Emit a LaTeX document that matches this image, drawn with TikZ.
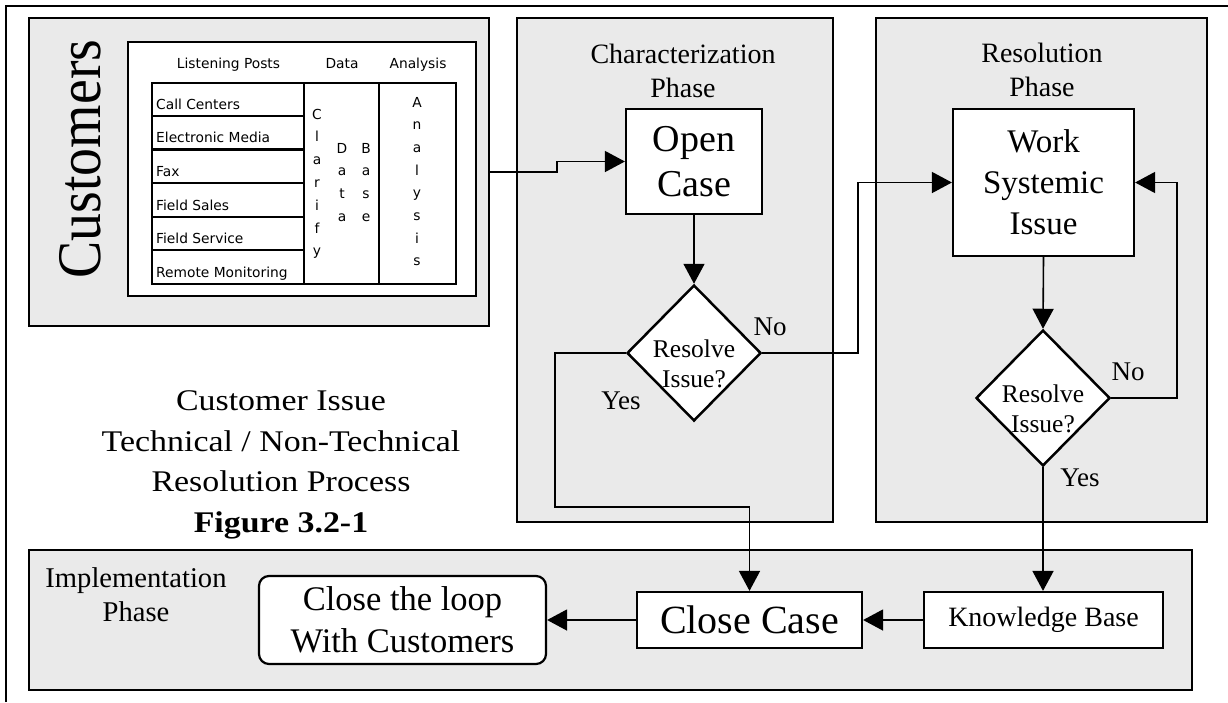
\documentclass[tikz,border=0pt]{standalone}
\usepackage{fontspec}
\setmainfont{Liberation Serif}
\newfontfamily\tabfont{DejaVu Sans}
\newfontfamily\capfont[FakeStretch=1.13]{Liberation Serif}
\newfontfamily\custfont[FakeStretch=0.9]{Liberation Serif}
\usetikzlibrary{arrows.meta,shapes.geometric}
\definecolor{panelgray}{RGB}{234,234,234}
\tikzset{
  panel/.style={draw=black, fill=panelgray, line width=1.5pt, inner sep=0pt, outer sep=0pt},
  box/.style={draw=black, fill=white, line width=2.2pt, inner sep=0pt, align=center},
  dia/.style={draw=black, fill=white, diamond, line width=2.5pt, inner sep=0pt},
  conn/.style={line width=1.6pt},
  arr/.style={line width=1.6pt, -{Triangle[length=20pt,width=21pt]}},
  tabtxt/.style={font=\tabfont\fontsize{13.8}{16}\selectfont, inner sep=0pt},
  lbl/.style={font=\fontsize{27}{30}\selectfont, inner sep=0pt},
  head/.style={font=\fontsize{28}{34}\selectfont, inner sep=0pt, align=center},
}
\begin{document}
\begin{tikzpicture}[x=1pt,y=-1pt]
\useasboundingbox (0,0) rectangle (1228,702);
% outer frame
\draw[line width=2pt] (6,702) -- (6,6) -- (1228,6);
% panels
\node[panel, minimum width=460, minimum height=308] (cust) at (259,172) {};
\node[panel, minimum width=316, minimum height=504] (charp) at (675,270) {};
\node[panel, minimum width=331, minimum height=504] (resp) at (1041.5,270) {};
\node[panel, minimum width=1163, minimum height=140] (implp) at (610.5,620) {};
% Customers title
\node[rotate=90, inner sep=0pt, font=\custfont\fontsize{62}{62}\selectfont] (custtitle) at (80,159) {Customers};
% inner white box
\node[draw=black, fill=white, line width=1.5pt, inner sep=0pt, minimum width=348, minimum height=254] (listbox) at (302,169) {};
% table
\node[draw=black, line width=2.8pt, inner sep=0pt, minimum width=304, minimum height=201] (table) at (304,183.5) {};
\draw[line width=2.8pt] (304,83) -- (304,284);
\draw[line width=2.8pt] (379,83) -- (379,284);
\foreach \yy in {116,149.5,183,217,250} \draw[line width=2.8pt] (152,\yy) -- (304,\yy);
% headers
\node[tabtxt, anchor=base] (hlp) at (228.5,68.5) {Listening Posts};
\node[tabtxt, anchor=base] (hdata) at (342,68.5) {Data};
\node[tabtxt, anchor=base] (hana) at (418,68.5) {Analysis};
% rows
\node[tabtxt, anchor=base west] (r1) at (156,109) {Call Centers};
\node[tabtxt, anchor=base west] (r2) at (156,142.5) {Electronic Media};
\node[tabtxt, anchor=base west] (r3) at (156,176) {Fax};
\node[tabtxt, anchor=base west] (r4) at (156,210) {Field Sales};
\node[tabtxt, anchor=base west] (r5) at (156,243) {Field Service};
\node[tabtxt, anchor=base west] (r6) at (156,277) {Remote Monitoring};
% vertical words
\foreach \c [count=\i from 0] in {C,l,a,r,i,f,y}
  \node[tabtxt, anchor=base] (cl\i) at (317,119+22.8*\i) {\c};
\foreach \c [count=\i from 0] in {D,a,t,a}
  \node[tabtxt, anchor=base] (da\i) at (342,153+22.7*\i) {\c};
\foreach \c [count=\i from 0] in {B,a,s,e}
  \node[tabtxt, anchor=base] (ba\i) at (366,153+22.7*\i) {\c};
\foreach \c [count=\i from 0] in {A,n,a,l,y,s,i,s}
  \node[tabtxt, anchor=base] (an\i) at (417,107+22.7*\i) {\c};
% phase headings
\node[head] (charh) at (683,70.5) {Characterization\\Phase};
\node[head] (resh) at (1042,70) {Resolution\\Phase};
\node[head, font=\fontsize{28.6}{34}\selectfont] (implh) at (136,595) {Implementation\\Phase};
% caption
\node[inner sep=0pt, align=center, font=\capfont\fontsize{30}{40.5}\selectfont] (caption) at (281,465)
  {Customer Issue\\Technical / Non-Technical\\Resolution Process\\\textbf{Figure 3.2-1}};
% process boxes
\node[box, minimum width=136, minimum height=105, font=\fontsize{38}{45}\selectfont] (open) at (694,161.5) {Open\\Case};
\node[box, minimum width=181, minimum height=147, font=\fontsize{33}{41}\selectfont] (wsi) at (1043.5,182.5) {Work\\Systemic\\Issue};
\node[box, minimum width=225, minimum height=56, font=\fontsize{40}{44}\selectfont] (close) at (749.5,620) {Close Case};
\node[box, minimum width=239, minimum height=56, font=\fontsize{28}{32}\selectfont] (kb) at (1043.5,620) {Knowledge Base};
\node[box, rounded corners=10pt, minimum width=287, minimum height=88, font=\fontsize{34.5}{42}\selectfont] (loop) at (402.5,620) {Close the loop\\With Customers};
% decisions
\node[dia, minimum width=134, minimum height=136] (d1) at (694,353) {};
\node[dia, minimum width=134, minimum height=136] (d2) at (1043,398) {};
\node[inner sep=0pt, align=center, font=\fontsize{25.5}{30}\selectfont] (d1t) at (694,363.5) {Resolve\\Issue?};
\node[inner sep=0pt, align=center, font=\fontsize{25.5}{30}\selectfont] (d2t) at (1043,408.5) {Resolve\\Issue?};
% labels
\node[lbl] (no1) at (770,327) {No};
\node[lbl] (yes1) at (621,401) {Yes};
\node[lbl] (no2) at (1128,372) {No};
\node[lbl] (yes2) at (1080,478) {Yes};
% junction coordinates
\coordinate (j1) at (858,353);
\coordinate (j2) at (555,507);
\coordinate (j3) at (1177,398);
% connectors
\draw[arr] (cust.east) -- ++(68,0) |- (open.west);
\draw[arr] (open.south) -- (d1.north);
\draw[arr] (d1.east) -- (j1) |- (wsi.west);
\draw[arr] (d1.west) -| (j2) -| (close.north);
\draw[arr] (wsi.south) -- (d2.north);
\draw[arr] (d2.east) -- (j3) |- (wsi.east);
\draw[arr] (d2.south) -- (d2.south |- kb.north);
\draw[arr] (kb.west) -- (close.east);
\draw[arr] (close.west) -- (loop.east);
\end{tikzpicture}
\end{document}
